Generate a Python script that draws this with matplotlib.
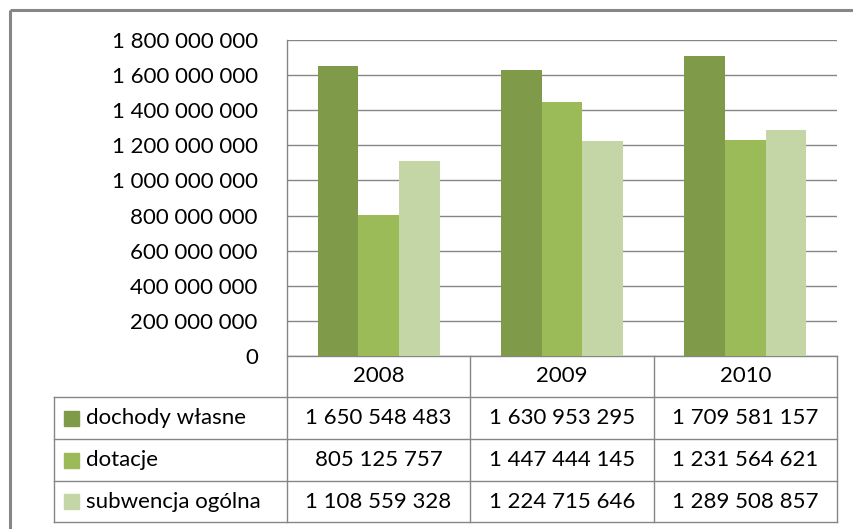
import matplotlib
matplotlib.use("Agg")
import matplotlib.pyplot as plt
import numpy as np

years = ["2008", "2009", "2010"]
series_names = ["dochody własne", "dotacje", "subwencja ogólna"]
dochody = [1650548483, 1630953295, 1709581157]
dotacje = [805125757, 1447444145, 1231564621]
subwencja = [1108559328, 1224715646, 1289508857]
series_values = [dochody, dotacje, subwencja]
colors = ["#7F9B4A", "#9BBB59", "#C4D6A5"]
yticks = [0, 200000000, 400000000, 600000000, 800000000, 1000000000,
          1200000000, 1400000000, 1600000000, 1800000000]

W, H = 854, 529
plt.rcParams['font.family'] = ['Lato', 'DejaVu Sans']
FS = 16
grid_c = "#868686"
fig = plt.figure(figsize=(W / 100, H / 100), dpi=100)

# overlay axes in pixel coordinates
ov = fig.add_axes([0, 0, 1, 1])
ov.set_xlim(0, W)
ov.set_ylim(H, 0)
ov.axis("off")

# plot area
PL, PR, PT, PB = 287, 837, 40, 356
ax = fig.add_axes([PL / W, 1 - PB / H, (PR - PL) / W, (PB - PT) / H])
ax.set_facecolor("none")
n = len(years)
x = np.arange(n)
bw = 1 / 4.5
for i, (vals, c) in enumerate(zip(series_values, colors)):
    ax.bar(x + (i - 1) * bw, vals, width=bw, color=c, zorder=3)
ax.set_xlim(-0.5, n - 0.5)
ax.set_ylim(0, 1800000000)
ax.set_yticks(yticks)
ax.set_yticklabels([f"{v:,}".replace(",", " ") for v in yticks], fontsize=FS)
ax.tick_params(axis="y", length=0, pad=21)
ax.set_xticks([])
ax.grid(axis="y", color=grid_c, linewidth=1.0, zorder=0)
for s in ax.spines.values():
    s.set_visible(False)

# outer frame (cropped)
ov.plot([10, 10], [10, H], color=grid_c, linewidth=2.2, solid_capstyle="butt")
ov.plot([10, W], [10, 10], color=grid_c, linewidth=2.2, solid_capstyle="butt")

# table geometry
col_x = [287, 470, 654, 837]
row_y = [356, 397, 439, 481, 522]
LX = 54
lw = 1.0
ov.plot([287, 837], [356, 356], color=grid_c, lw=lw)
for yy in row_y[1:]:
    ov.plot([LX, 837], [yy, yy], color=grid_c, lw=lw)
ov.plot([LX, LX], [397, 522], color=grid_c, lw=lw)
ov.plot([287, 287], [PT, 522], color=grid_c, lw=lw)
for xx in col_x[1:]:
    ov.plot([xx, xx], [356, 522], color=grid_c, lw=lw)

# header
for j, yr in enumerate(years):
    cx = (col_x[j] + col_x[j + 1]) / 2
    ov.text(cx, (row_y[0] + row_y[1]) / 2, yr, ha="center", va="center", fontsize=FS)

# rows
for i, (name, vals, c) in enumerate(zip(series_names, series_values, colors)):
    cy = (row_y[i + 1] + row_y[i + 2]) / 2
    ov.add_patch(plt.Rectangle((64, cy - 7.5), 15, 15, color=c))
    ov.text(86, cy, name, ha="left", va="center", fontsize=FS)
    for j, v in enumerate(vals):
        cx = (col_x[j] + col_x[j + 1]) / 2
        ov.text(cx, cy, f"{v:,}".replace(",", " "), ha="center", va="center", fontsize=FS)

fig.savefig("out.png", dpi=100)
